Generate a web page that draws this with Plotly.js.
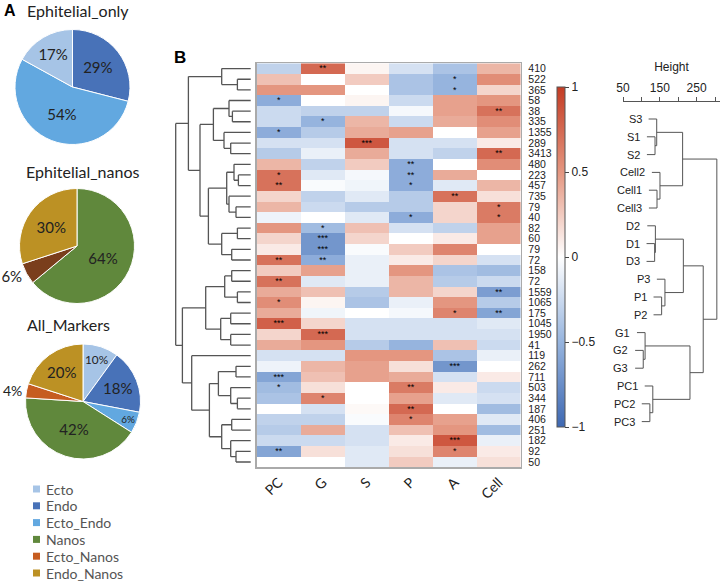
<!DOCTYPE html>
<html><head><meta charset="utf-8">
<script src="https://cdn.plot.ly/plotly-3.0.1.min.js"></script>
<style>html,body{margin:0;padding:0;background:#fff}#chart{width:724px;height:583px}</style>
</head><body><div id="chart"></div>
<script>
// ---------------- DATA ----------------
const pieLabels1 = ['Endo','Ecto_Endo','Ecto'];
const pieValues1 = [29, 54, 17];
const pieLabels2 = ['Nanos','Ecto_Nanos','Endo_Nanos'];
const pieValues2 = [64, 6, 30];
const pieLabels3 = ['Ecto','Endo','Ecto_Endo','Nanos','Ecto_Nanos','Endo_Nanos'];
const pieValues3 = [10, 18, 6, 42, 4, 20];
const legendLabels = ['Ecto','Endo','Ecto_Endo','Nanos','Ecto_Nanos','Endo_Nanos'];

const columns = ['PC','G','S','P','A','Cell'];
const rowLabels = ['410','522','365','58','38','335','1355','289','3413','480','223','457','735','79','40','82','60','79','72','158','72','1559','1065','175','1045','1950','41','119','262','711','503','344','187','406','251','182','92','50'];

const zPC   = [-0.3,0.3,0.5,-0.55,-0.25,-0.25,-0.55,-0.2,-0.35,0.35,0.7,0.7,0.2,0.35,-0.08,0.5,0.2,0.1,0.7,0.25,0.7,0.4,0.55,0.4,0.8,0.2,0.4,-0.2,-0.08,-0.6,-0.45,-0.4,0,-0.3,-0.35,-0.25,-0.6,0];
const zG    = [0.75,0,0.5,0,-0.3,-0.5,-0.35,-0.2,-0.1,-0.3,-0.15,-0.03,-0.3,-0.25,0,-0.45,-0.7,-0.7,-0.55,0.45,-0.15,0.3,0.05,-0.07,0.2,0.75,0.5,-0.2,0.35,0.3,0.15,0.6,-0.2,-0.3,0.4,-0.25,0.15,0];
const zS    = [0.05,0.25,0,0.05,-0.3,0.35,0.4,0.85,0.4,0.25,-0.05,-0.07,-0.15,-0.35,-0.15,0.3,0.2,-0.03,-0.1,-0.1,-0.1,-0.35,-0.4,0,-0.2,-0.2,-0.35,0.5,0.45,0.45,0,0,0.03,-0.03,-0.2,-0.2,-0.15,-0.15];
const zP    = [-0.2,-0.4,-0.4,-0.25,-0.05,-0.25,0.45,-0.2,-0.2,-0.55,-0.55,-0.55,-0.35,-0.35,-0.55,-0.2,0,0.25,0.1,0.5,0.35,0.35,-0.1,-0.05,-0.2,-0.2,-0.5,0.5,0.15,0.4,0.65,0.45,0.75,0.6,0.3,0.1,0.15,0.25];
const zA    = [-0.4,-0.5,-0.5,0.45,0.45,0.4,0,-0.2,-0.3,0,0.4,-0.15,0.7,0.2,0.2,-0.3,0.1,0.6,0.2,-0.4,-0.35,0.2,0.5,0.6,-0.2,-0.2,0.3,-0.4,-0.7,-0.2,0.1,-0.15,0,0.45,0.5,0.85,0.6,-0.1];
const zCell = [0.35,0.55,0.2,0.5,0.7,0.55,0.45,0.1,0.75,0.55,0,0.35,0.15,0.65,0.65,0.45,0.45,0,-0.2,-0.45,-0.25,-0.65,-0.35,-0.6,-0.15,-0.2,-0.25,-0.1,0,0.1,-0.25,-0.2,-0.45,-0.15,-0.45,-0.1,0.1,0.15];

// significance stars: {rowIndex: stars}
const starsPC   = {3:'*',6:'*',10:'*',11:'**',18:'**',20:'**',22:'*',24:'***',29:'***',30:'*',36:'**'};
const starsG    = {0:'**',5:'*',15:'*',16:'***',17:'***',18:'**',25:'***',31:'*'};
const starsS    = {7:'***'};
const starsP    = {9:'**',10:'**',11:'*',14:'*',30:'**',32:'**',33:'*'};
const starsA    = {1:'*',2:'*',12:'**',23:'*',28:'***',35:'***',36:'*'};
const starsCell = {4:'**',8:'**',13:'*',14:'*',21:'**',23:'**'};

// row dendrogram: [height, left, right], leaves = row index
const rowTree = [75,
  [62.3,
    [29, 0, [13.3, 1, 2]],
    [50.7,
      [37.3, [21.7, 3, [18.3, 4, 5]], [26.7, 6, [20, 7, 8]]],
      [42.3,
        [24, [16.7, 9, [12.3, 10, 11]], [21.7, 12, [14.7, 13, 14]]],
        [29, [13.3, 15, 16], [19, 17, 18]]]]],
  [68.3,
    [45, [26, [19, 19, 20], [13.3, 21, 22]], [30, [20, 23, 24], [20, 25, 26]]],
    [59, 27,
      [41.3,
        [32.3, [14.7, 28, 29], [20, 30, [13.3, 31, 32]]],
        [29, [19, 33, 34], [20, 35, [14.7, 36, 37]]]]]]];

// sample dendrogram (Height axis)
const sampleLabels = ['S3','S1','S2','Cell2','Cell1','Cell3','D2','D1','D3','P3','P1','P2','G1','G2','G3','PC1','PC2','PC3'];
const sampleTree = [305,
  [212, [141.6, 0, [137, 1, 2]], [150.5, 3, [142.4, 4, 5]]],
  [268,
    [214, [138, 6, [136, 7, 8]], [164, 9, [155, 10, 11]]],
    [232, [110, 12, [105, 13, 14]], [131, 15, [123, 16, 17]]]]];
const sampleHang = 22;
const heightTicks = [50,100,150,200,250,300];
const heightTickText = ['50','','150','','250',''];

// ---------------- HELPERS ----------------
const W = 724, H = 583;
const px = x => x / W;
const py = y => 1 - y / H;

function dendroLines(tree, leafStart) {
  const xs = [], ys = [];
  function walk(node) {
    if (typeof node === 'number') return {y: node, h: null, leaf: true};
    const [h, a, b] = node;
    const A = walk(a), B = walk(b);
    [A, B].forEach(C => {
      const ch = C.leaf ? leafStart(h) : C.h;
      xs.push(ch, h, null); ys.push(C.y, C.y, null);
    });
    xs.push(h, h, null); ys.push(A.y, B.y, null);
    return {y: (A.y + B.y) / 2, h: h, leaf: false};
  }
  walk(tree);
  return {xs, ys};
}
function leafParents(tree) {
  const out = {};
  (function walk(node) {
    if (typeof node === 'number') return;
    const [h, a, b] = node;
    [a, b].forEach(c => { if (typeof c === 'number') out[c] = h; else walk(c); });
  })(tree);
  return out;
}

const colsData = [zPC, zG, zS, zP, zA, zCell];
const starsData = [starsPC, starsG, starsS, starsP, starsA, starsCell];
const rowIdx = rowLabels.map((_, i) => i);
const z = rowIdx.map(r => colsData.map(c => c[r]));
const txt = rowIdx.map(r => starsData.map(s => s[r] || ''));

const leftD = dendroLines(rowTree, () => 0);
const rightD = dendroLines(sampleTree, h => h - sampleHang);
const sampleParent = leafParents(sampleTree);

const sansM = 'Lato, Noto Sans, sans-serif';
const helv = 'Liberation Sans, Arial, sans-serif';

// ---------------- TRACES ----------------
const pieCommon = {
  type: 'pie', sort: false, direction: 'clockwise', rotation: 0,
  textinfo: 'text', hoverinfo: 'none', showlegend: false,
  insidetextorientation: 'horizontal',
  textfont: {family: sansM, size: 15, color: '#222'}
};
const cEcto = 'rgb(166,196,230)', cEndo = 'rgb(72,114,184)', cEctoEndo = 'rgb(98,168,224)',
      cNanos = 'rgb(96,136,60)', cEctoNanos = 'rgb(198,92,32)', cEndoNanos = 'rgb(188,145,36)';

const pie1 = Object.assign({}, pieCommon, {
  labels: pieLabels1, values: pieValues1, text: pieValues1.map(v => v + '%'),
  textposition: 'inside',
  marker: {colors: [cEndo, cEctoEndo, cEcto], line: {color: '#fff', width: 1}},
  domain: {x: [px(15), px(130)], y: [py(144.5), py(29.5)]}
});
const pie2 = Object.assign({}, pieCommon, {
  labels: pieLabels2, values: pieValues2, text: pieValues2.map(v => v + '%'),
  textposition: ['inside','outside','inside'],
  marker: {colors: [cNanos, 'rgb(122,62,28)', cEndoNanos], line: {color: '#fff', width: 1}},
  domain: {x: [px(19.5), px(134.5)], y: [py(303.5), py(188.5)]}
});
const pie3 = Object.assign({}, pieCommon, {
  labels: pieLabels3, values: pieValues3, text: pieValues3.map(v => v + '%'),
  textposition: ['inside','inside','inside','inside','outside','inside'],
  outsidetextfont: {family: sansM, size: 14, color: '#222'},
  marker: {colors: [cEcto, cEndo, cEctoEndo, cNanos, cEctoNanos, cEndoNanos], line: {color: '#fff', width: 1}},
  domain: {x: [px(25.5), px(140.5)], y: [py(459), py(344)]}
});

const heat = {
  type: 'heatmap', x: columns, y: rowIdx, z: z, text: txt,
  texttemplate: '%{text}', textfont: {family: helv, size: 9, color: '#000'},
  zmin: -1, zmax: 1, hoverinfo: 'none',
  colorscale: [[0,'rgb(62,104,178)'],[0.25,'rgb(150,180,222)'],[0.5,'rgb(255,255,255)'],[0.75,'rgb(228,150,128)'],[1,'rgb(196,60,36)']],
  xaxis: 'x', yaxis: 'y',
  colorbar: {
    x: px(557), xanchor: 'left', y: py(87), yanchor: 'top',
    len: 340, lenmode: 'pixels', thickness: 8, thicknessmode: 'pixels',
    xpad: 0, ypad: 0, outlinewidth: 1, outlinecolor: '#555',
    tickvals: [-1,-0.5,0,0.5,1], ticktext: ['\u22121','\u22120.5','0','0.5','1'],
    ticks: 'outside', ticklen: 4, tickcolor: '#444',
    tickfont: {family: helv, size: 12, color: '#222'}
  }
};

const dendL = {
  type: 'scatter', mode: 'lines', x: leftD.xs, y: leftD.ys,
  xaxis: 'x2', yaxis: 'y', line: {color: '#555', width: 1.3},
  hoverinfo: 'none', showlegend: false
};
const dendR = {
  type: 'scatter', mode: 'lines', x: rightD.xs, y: rightD.ys,
  xaxis: 'x3', yaxis: 'y3', line: {color: '#555', width: 1},
  hoverinfo: 'none', showlegend: false, cliponaxis: false
};

// ---------------- ANNOTATIONS / SHAPES ----------------
const ann = [];
const shapes = [];
function txtAnn(text, x, y, opts) {
  ann.push(Object.assign({text: text, x: px(x), y: py(y), xref: 'paper', yref: 'paper',
    showarrow: false, xanchor: 'left', yanchor: 'middle',
    font: {family: sansM, size: 16, color: '#222'}}, opts || {}));
}
txtAnn('<b>A</b>', 2, 11, {font: {family: helv, size: 16, color: '#000'}});
txtAnn('Ephitelial_only', 25, 11);
txtAnn('Ephitelial_nanos', 24, 171);
txtAnn('All_Markers', 25, 324);
txtAnn('<b>B</b>', 172, 58, {font: {family: helv, size: 17, color: '#000'}});

const legendColors = [cEcto, cEndo, cEctoEndo, cNanos, cEctoNanos, cEndoNanos];
legendLabels.forEach((lab, i) => {
  const yc = 489 + i * 16.8;
  shapes.push({type: 'rect', xref: 'paper', yref: 'paper', x0: px(33), x1: px(40), y0: py(yc + 3.5), y1: py(yc - 3.5),
    fillcolor: legendColors[i], line: {width: 0}});
  txtAnn(lab, 44, yc, {font: {family: sansM, size: 14, color: '#555'}});
});

sampleLabels.forEach((lab, i) => {
  ann.push({text: lab, x: sampleParent[i] - sampleHang, y: i, xref: 'x3', yref: 'y3', showarrow: false,
    xanchor: 'right', yanchor: 'middle', xshift: -5, font: {family: helv, size: 11, color: '#222'}});
});

// ---------------- LAYOUT ----------------
const layout = {
  width: W, height: H, margin: {l: 0, r: 0, t: 0, b: 0},
  paper_bgcolor: '#fff', plot_bgcolor: 'rgba(0,0,0,0)',
  showlegend: false,
  font: {family: sansM, color: '#222'},
  xaxis: {domain: [px(256.7), px(520.7)], anchor: 'y', showgrid: false, zeroline: false,
    showline: true, mirror: true, linecolor: '#aaa', linewidth: 1.5, ticks: '',
    tickangle: -45, tickfont: {family: sansM, size: 14, color: '#222'}, fixedrange: true},
  yaxis: {domain: [py(467.3), py(63.3)], anchor: 'x', side: 'right', range: [37.5, -0.5],
    tickvals: rowIdx, ticktext: rowLabels, showgrid: false, zeroline: false,
    showline: true, mirror: true, linecolor: '#aaa', linewidth: 1.5, ticks: '',
    ticklabelstandoff: 4,
    tickfont: {family: helv, size: 10.5, color: '#222'}},
  xaxis2: {domain: [px(160), px(257)], anchor: 'y', range: [250.7 - 160, 250.7 - 257], visible: false},
  xaxis3: {domain: [px(623), px(720)], anchor: 'y3', side: 'top', range: [50, 50 + 97 / 0.368],
    tickvals: heightTicks, ticktext: heightTickText, ticks: 'outside', ticklen: 4, tickcolor: '#555',
    showline: true, linecolor: '#555', linewidth: 1, showgrid: false, zeroline: false,
    tickfont: {family: helv, size: 12, color: '#222'},
    title: {text: 'Height', font: {family: helv, size: 12, color: '#222'}, standoff: 6}},
  yaxis3: {domain: [py(430.5), py(101.7)], anchor: 'x3', range: [17.5, -0.5 - (119 - 8.9 - 101.7) / 17.8], visible: false},
  annotations: ann,
  shapes: shapes
};

Plotly.newPlot('chart', [pie1, pie2, pie3, heat, dendL, dendR], layout, {displayModeBar: false, staticPlot: true});
</script></body></html>
